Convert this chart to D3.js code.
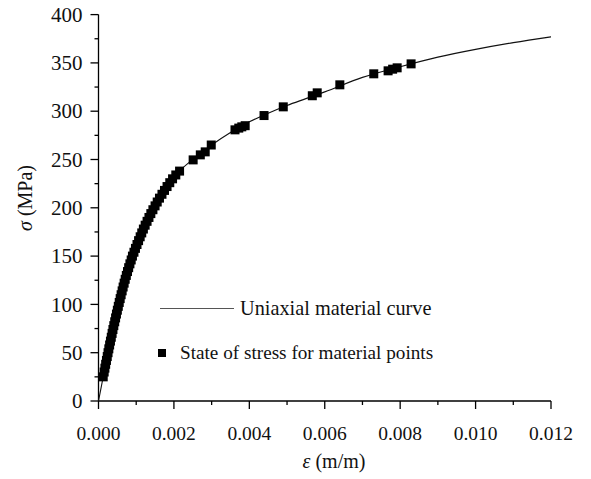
<!DOCTYPE html>
<html>
<head>
<meta charset="utf-8">
<script src="https://cdn.jsdelivr.net/npm/d3@7"></script>
<style>
  html, body { margin: 0; padding: 0; background: #fff; }
  svg { display: block; font-family: "Liberation Serif", "Times New Roman", serif; }
</style>
</head>
<body>
<svg id="chart" width="591" height="479"></svg>
<script>
// Uniaxial stress–strain curve (strain in m/m, stress in MPa)
const curveStrain = [0, 0.0001, 0.0002, 0.0003, 0.0004, 0.0005, 0.0006, 0.0007, 0.0008, 0.0009,
  0.0010, 0.0012, 0.0014, 0.0016, 0.0018, 0.0020, 0.0022, 0.0025, 0.0030, 0.0035,
  0.0040, 0.0045, 0.0050, 0.0055, 0.0060, 0.0070, 0.0080, 0.0090, 0.0100, 0.0110, 0.0120];
const curveStress = [0, 20, 40, 59, 77, 94, 110, 125, 138, 150,
  160, 179, 195, 209, 221, 232, 240, 250, 265, 278,
  289, 298, 306, 313, 320, 335, 346, 356, 364, 371, 377];

// Stress states of the material points
const pointStrain = [0.000125, 0.00015, 0.00017, 0.00019, 0.000211, 0.000232, 0.000253, 0.000274,
  0.000295, 0.000317, 0.000339, 0.000361, 0.000383, 0.000406, 0.00043, 0.000453,
  0.000476, 0.0005, 0.000525, 0.00055, 0.000575, 0.0006, 0.000627, 0.000653,
  0.00068, 0.000708, 0.000738, 0.000769, 0.0008, 0.000833, 0.000867, 0.0009,
  0.00094, 0.00098, 0.001021, 0.001063, 0.001105, 0.001147, 0.00119, 0.001237,
  0.001288, 0.001338, 0.001388, 0.001443, 0.0015, 0.001557, 0.001617, 0.001683,
  0.00175, 0.001818, 0.00189, 0.001964, 0.00205, 0.00215,
  0.00251, 0.0027, 0.00283, 0.00299,
  0.00362, 0.00372, 0.0038, 0.00389, 0.00439, 0.0049,
  0.00567, 0.0058, 0.0064, 0.0073, 0.00768, 0.0078, 0.00792, 0.00829];
const pointStress = [25, 30, 34, 38, 42, 46, 50, 54,
  58, 62, 66, 70, 74, 78, 82, 86,
  90, 94, 98, 102, 106, 110, 114, 118,
  122, 126, 130, 134, 138, 142, 146, 150,
  154, 158, 162, 166, 170, 174, 178, 182,
  186, 190, 194, 198, 202, 206, 210, 214,
  218, 222, 226, 230, 234, 238,
  249.6, 254.8, 257.9, 265,
  280.7, 282.5, 283.8, 285, 295.5, 304.5,
  316, 319, 327.3, 338.7, 341.8, 343.5, 344.9, 349];

const xTicks = [0, 0.002, 0.004, 0.006, 0.008, 0.010, 0.012];
const yTicks = [0, 50, 100, 150, 200, 250, 300, 350, 400];
const legendLabels = ["Uniaxial material curve", "State of stress for material points"];

const svg = d3.select("#chart");

const x = d3.scaleLinear().domain([0, 0.012]).range([98.5, 551]);
const y = d3.scaleLinear().domain([0, 400]).range([401, 14.6]);

const fontSize = 19.5;
const ink = "#111";

// x axis: major ticks with labels, minor ticks between
const xAxis = svg.append("g").attr("transform", `translate(0,${y(0)})`);
xAxis.append("line").attr("x1", x(0)).attr("x2", x(0.012)).attr("stroke", "#000").attr("stroke-width", 1.3);
const xMinor = [0.001, 0.003, 0.005, 0.007, 0.009, 0.011];
xAxis.selectAll("line.minor").data(xMinor).join("line")
  .attr("class", "minor").attr("x1", d => x(d)).attr("x2", d => x(d))
  .attr("y1", 0).attr("y2", 4).attr("stroke", "#000").attr("stroke-width", 1.3);
xAxis.selectAll("line.major").data(xTicks).join("line")
  .attr("class", "major").attr("x1", d => x(d)).attr("x2", d => x(d))
  .attr("y1", 0).attr("y2", 8).attr("stroke", "#000").attr("stroke-width", 1.3);
xAxis.selectAll("text").data(xTicks).join("text")
  .attr("x", d => x(d)).attr("y", 39).attr("text-anchor", "middle")
  .attr("font-size", fontSize).attr("fill", ink)
  .text(d => d3.format(".3f")(d));

// y axis
const yAxis = svg.append("g").attr("transform", `translate(${x(0)},0)`);
yAxis.append("line").attr("y1", y(0)).attr("y2", y(400)).attr("stroke", "#000").attr("stroke-width", 1.3);
const yMinor = [25, 75, 125, 175, 225, 275, 325, 375];
yAxis.selectAll("line.minor").data(yMinor).join("line")
  .attr("class", "minor").attr("y1", d => y(d)).attr("y2", d => y(d))
  .attr("x1", 0).attr("x2", -4).attr("stroke", "#000").attr("stroke-width", 1.3);
yAxis.selectAll("line.major").data(yTicks).join("line")
  .attr("class", "major").attr("y1", d => y(d)).attr("y2", d => y(d))
  .attr("x1", 0).attr("x2", -8).attr("stroke", "#000").attr("stroke-width", 1.3);
yAxis.selectAll("text").data(yTicks).join("text")
  .attr("x", -16).attr("y", d => y(d)).attr("dy", "0.34em").attr("text-anchor", "end")
  .attr("font-size", 21).attr("fill", ink)
  .text(d => d);

// axis titles
const xt = svg.append("text").attr("x", 334).attr("y", 468).attr("text-anchor", "middle")
  .attr("font-size", 20).attr("fill", ink);
xt.append("tspan").attr("font-style", "italic").text("ε");
xt.append("tspan").text(" (m/m)");

const yt = svg.append("text").attr("transform", "translate(32,198) rotate(-90)")
  .attr("text-anchor", "middle").attr("font-size", 20).attr("fill", ink);
yt.append("tspan").attr("font-style", "italic").text("σ");
yt.append("tspan").text(" (MPa)");

// material curve
const curveData = curveStrain.map((e, i) => [e, curveStress[i]]);
svg.append("path").datum(curveData)
  .attr("fill", "none").attr("stroke", ink).attr("stroke-width", 1.1)
  .attr("d", d3.line().x(d => x(d[0])).y(d => y(d[1])).curve(d3.curveMonotoneX));

// material point states
const pts = pointStrain.map((e, i) => [e, pointStress[i]]);
const sq = 9;
svg.append("g").selectAll("rect").data(pts).join("rect")
  .attr("x", d => x(d[0]) - sq / 2).attr("y", d => y(d[1]) - sq / 2)
  .attr("width", sq).attr("height", sq).attr("fill", "#000");

// legend
const lg = svg.append("g");
lg.append("line").attr("x1", 160).attr("x2", 234).attr("y1", 308.5).attr("y2", 308.5)
  .attr("stroke", "#555").attr("stroke-width", 1.2);
lg.append("text").attr("x", 240).attr("y", 315).attr("font-size", 20.3).attr("fill", ink)
  .text(legendLabels[0]);
lg.append("rect").attr("x", 162 - 4).attr("y", 353 - 4).attr("width", 8).attr("height", 8).attr("fill", "#000");
lg.append("text").attr("x", 180).attr("y", 359).attr("font-size", 19.2).attr("fill", ink)
  .text(legendLabels[1]);
</script>
</body>
</html>
